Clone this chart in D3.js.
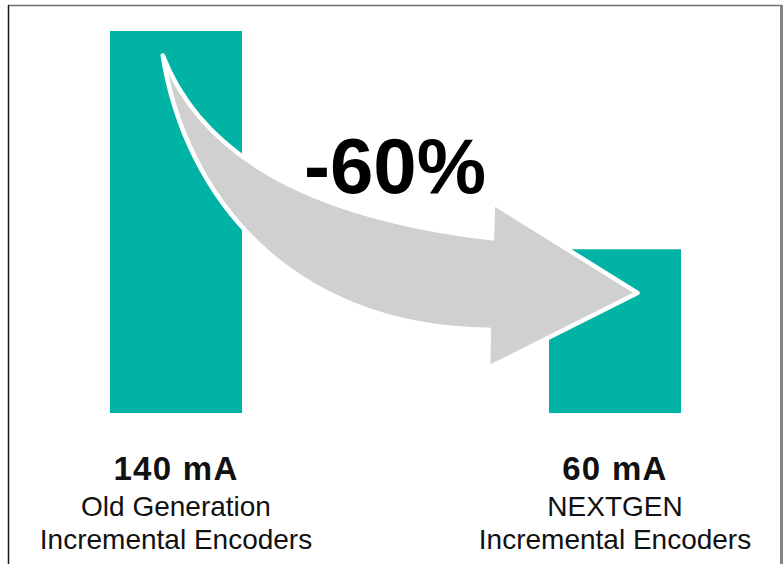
<!DOCTYPE html>
<html>
<head>
<meta charset="utf-8">
<script src="https://cdn.jsdelivr.net/npm/d3@7"></script>
<style>
  html, body { margin: 0; padding: 0; background: #fff; }
  svg { display: block; }
</style>
</head>
<body>
<svg id="chart" width="784" height="564"></svg>
<script>
// ---- data ----
const categories = ["Old Generation Incremental Encoders", "NEXTGEN Incremental Encoders"];
const nameLine1 = ["Old Generation", "NEXTGEN"];
const nameLine2 = ["Incremental Encoders", "Incremental Encoders"];
const values = [140, 60];
const valueLabels = ["140 mA", "60 mA"];
const changeLabel = "-60%";

// ---- layout ----
const W = 784, H = 564;
const svg = d3.select("#chart");
const teal = "#00B3A4";
const grey = "#D0D0D0";

const x = d3.scaleBand().domain(categories).range([110, 681]).paddingInner(0.6993).paddingOuter(0);
const y = d3.scaleLinear().domain([0, 140]).range([413, 31]);
const bw = x.bandwidth();

// frame
svg.append("line").attr("x1", 8).attr("x2", 782).attr("y1", 5.5).attr("y2", 5.5)
  .attr("stroke", "#6e6e6e").attr("stroke-width", 1.5);
svg.append("line").attr("x1", 8.5).attr("x2", 8.5).attr("y1", 5).attr("y2", H)
  .attr("stroke", "#1a1a1a").attr("stroke-width", 1.5);
svg.append("line").attr("x1", 781.5).attr("x2", 781.5).attr("y1", 5).attr("y2", H)
  .attr("stroke", "#858585").attr("stroke-width", 3);

// bars
svg.selectAll("rect.bar").data(categories).join("rect")
  .attr("class", "bar")
  .attr("x", d => x(d))
  .attr("width", bw)
  .attr("y", (d, i) => y(values[i]))
  .attr("height", (d, i) => y(0) - y(values[i]))
  .attr("fill", teal);

// curved arrow (anchored to the bars through the scales)
const x0 = x(categories[0]), x1 = x(categories[1]);
const start = [x0 + 0.40 * bw, y(values[0] - 9)];
const tip = [x1 + 0.67 * bw, y(44)];
const headX = x1 - 59;
const shaftTop = [headX + 2, y(64)];
const headTop = [headX + 3, y(77)];
const shaftBot = [headX - 1, y(30.5)];
const headBot = [headX - 2, y(16.5)];

const p = d3.path();
p.moveTo(start[0], start[1]);
p.bezierCurveTo(start[0] + 37, start[1] + 95, start[0] + 137, shaftTop[1] - 23, shaftTop[0], shaftTop[1]);
p.lineTo(headTop[0], headTop[1]);
p.lineTo(tip[0], tip[1]);
p.lineTo(headBot[0], headBot[1]);
p.lineTo(shaftBot[0], shaftBot[1]);
p.bezierCurveTo(shaftBot[0] - 200, shaftBot[1] - 2, start[0] + 22, start[1] + 140, start[0], start[1]);
p.closePath();

svg.append("path").attr("d", p.toString())
  .attr("fill", grey)
  .attr("stroke", "#fff")
  .attr("stroke-width", 4.5)
  .attr("stroke-linejoin", "round");

// change label
svg.append("text")
  .attr("x", 395).attr("y", 193)
  .attr("text-anchor", "middle")
  .attr("font-family", "Liberation Sans, Arial, sans-serif")
  .attr("font-weight", "bold")
  .attr("font-size", 78)
  .attr("fill", "#000")
  .text(changeLabel);

// labels
const lab = svg.append("g").attr("font-family", "Liberation Sans, Arial, sans-serif").attr("fill", "#111")
  .attr("text-anchor", "middle");
lab.selectAll("text.v").data(categories).join("text")
  .attr("class", "v")
  .attr("x", d => x(d) + bw / 2)
  .attr("y", 480)
  .attr("font-weight", "bold")
  .attr("font-size", 33)
  .attr("letter-spacing", 1.3)
  .text((d, i) => valueLabels[i]);
lab.selectAll("text.n1").data(categories).join("text")
  .attr("class", "n1")
  .attr("x", d => x(d) + bw / 2)
  .attr("y", 516)
  .attr("font-size", 28)
  .text((d, i) => nameLine1[i]);
lab.selectAll("text.n2").data(categories).join("text")
  .attr("class", "n2")
  .attr("x", d => x(d) + bw / 2)
  .attr("y", 549)
  .attr("font-size", 28)
  .text((d, i) => nameLine2[i]);
</script>
</body>
</html>
